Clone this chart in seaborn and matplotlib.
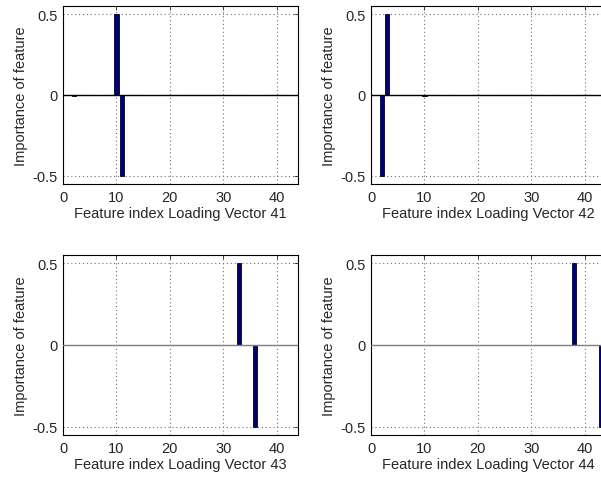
import numpy as np
import pandas as pd
import matplotlib
matplotlib.use("Agg")
import matplotlib.pyplot as plt
import seaborn as sns

sns.set_style("white")
plt.rcParams["font.family"] = ["Liberation Sans", "DejaVu Sans"]
plt.rcParams["font.size"] = 10.5

# loading vectors: non-zero entries (all other features are 0)
n_features = 44
vector_ids = [41, 42, 43, 44]
idx_41 = [2, 10, 11]
val_41 = [-0.006, 0.5, -0.5]
idx_42 = [2, 3, 10]
val_42 = [-0.5, 0.5, -0.004]
idx_43 = [33, 36]
val_43 = [0.5, -0.5]
idx_44 = [38, 43]
val_44 = [0.5, -0.5]

x_ticks = [0, 10, 20, 30, 40]
y_ticks = [-0.5, 0, 0.5]
y_tick_labels = ["-0.5", "0", "0.5"]


def build_vector(idx, val):
    """Full loading vector, zeros except the listed features"""
    v = np.zeros(n_features)
    for i, x in zip(idx, val):
        v[i - 1] = x
    return pd.DataFrame({"feature": np.arange(1, n_features + 1), "loading": v})


def draw_panel(ax, df, vec_id, zero_color):
    sns.barplot(data=df, x="feature", y="loading", native_scale=True, width=0.8,
                color="#000078", edgecolor="#000020", linewidth=0.6, saturation=1,
                ax=ax, zorder=3)
    ax.axhline(0, color=zero_color, linewidth=1.0, zorder=4)
    ax.set_xlim(0, 44)
    ax.set_ylim(-0.55, 0.55)
    ax.set_xticks(x_ticks)
    ax.set_yticks(y_ticks)
    ax.set_yticklabels(y_tick_labels)
    ax.grid(True, color="#707070", linestyle=(0, (1, 2.5)), linewidth=0.8)
    ax.tick_params(direction="in", length=3, top=True, right=True, width=0.6,
                   labelsize=10.5, pad=4)
    for s in ax.spines.values():
        s.set_color("black")
        s.set_linewidth(0.8)
    ax.set_xlabel(f"Feature index Loading Vector {vec_id}", fontsize=10.5, labelpad=2)
    ax.set_ylabel("Importance of feature", fontsize=10.5, labelpad=3)


W, H = 601, 481
fig = plt.figure(figsize=(W / 100, H / 100), dpi=100)

# axes boxes in pixels: left, top, right, bottom
boxes = [(63, 7, 298, 185), (371, 7, 606, 185),
         (63, 256, 298, 436), (371, 256, 606, 436)]
vectors = [(idx_41, val_41), (idx_42, val_42), (idx_43, val_43), (idx_44, val_44)]
zero_colors = ["black", "black", "#808080", "#808080"]

for (l, t, r, b), (idx, val), vid, zc in zip(boxes, vectors, vector_ids, zero_colors):
    ax = fig.add_axes([l / W, (H - b) / H, (r - l) / W, (b - t) / H])
    draw_panel(ax, build_vector(idx, val), vid, zc)

fig.savefig("out.png", dpi=100)
